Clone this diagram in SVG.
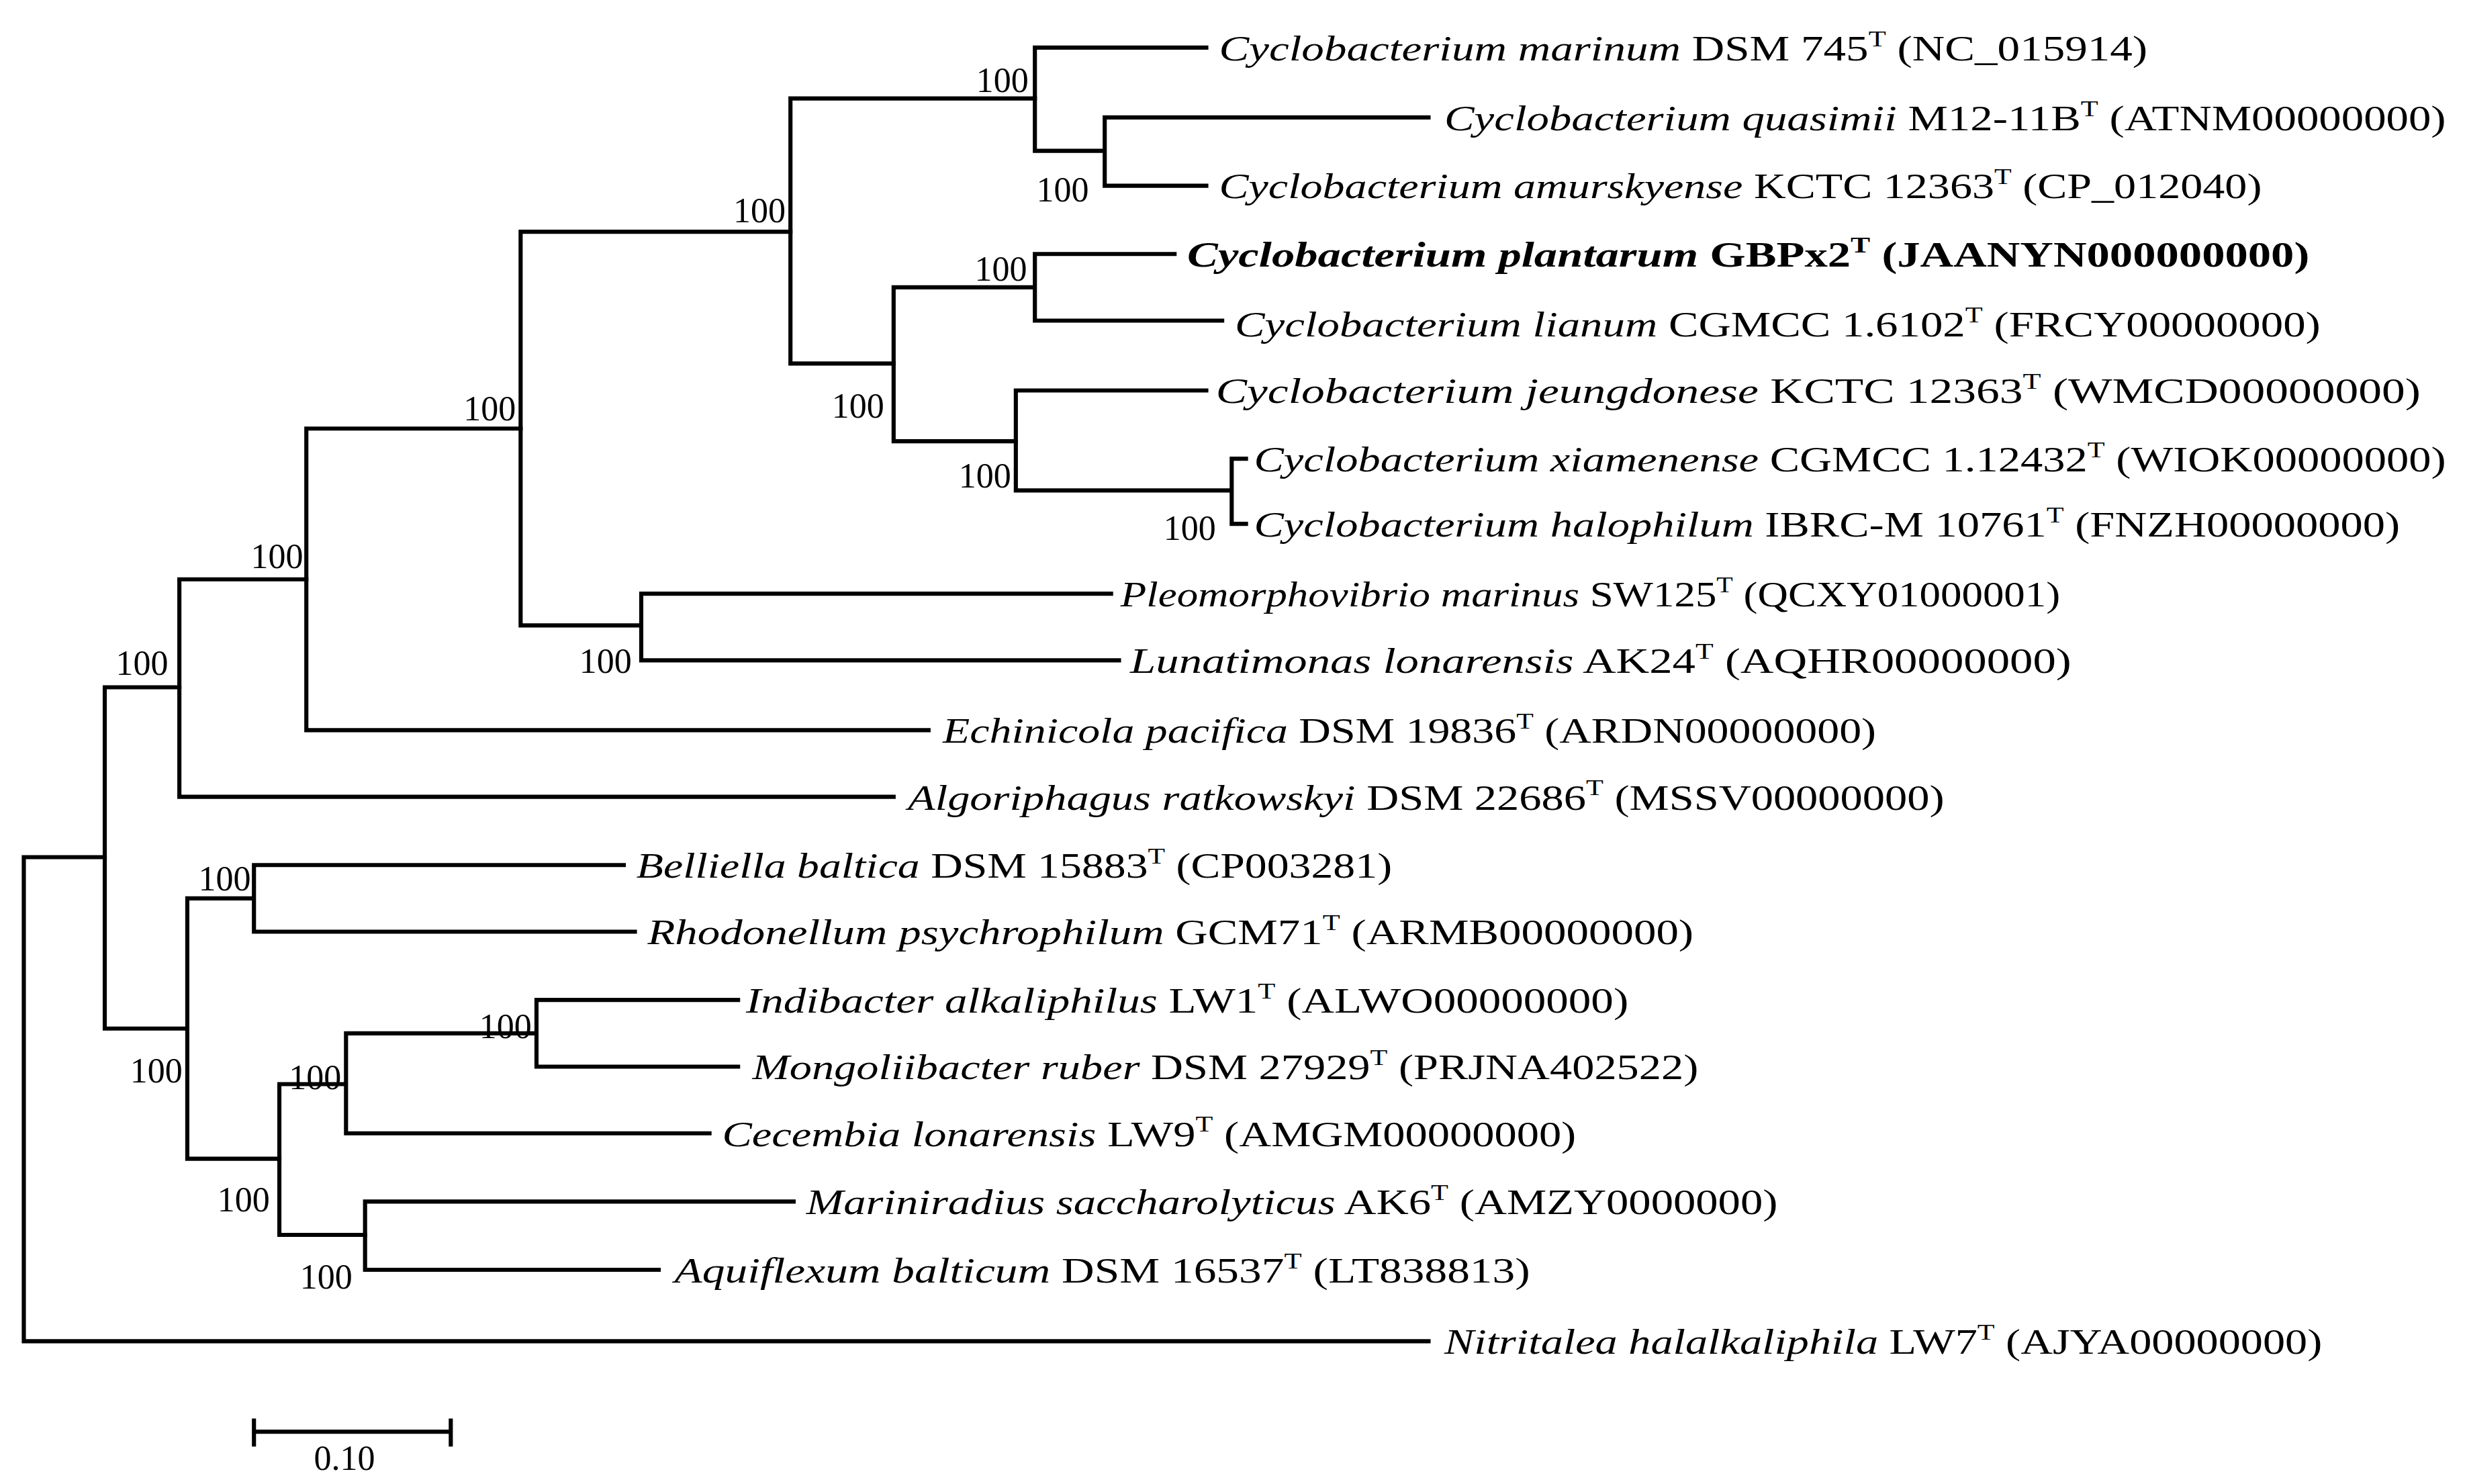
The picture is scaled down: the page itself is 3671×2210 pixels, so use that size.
<svg xmlns="http://www.w3.org/2000/svg" width="3671" height="2210" viewBox="0 0 3671 2210">
<style>
.b{fill:none;stroke:#000;stroke-width:2.6;stroke-linecap:square}
text{font-family:"Liberation Serif",serif;font-size:22px;fill:#000}
.i{font-style:italic}
.s{font-size:14px}
</style>
<rect width="3671" height="2210" fill="#fff"/>
<g transform="scale(2.3638)">
<g id="connectors" class="b">
<path d="M652,30H760M652,30V95H696M696,74V117M696,74H900M696,117H760"/>
<path d="M498,62H652M498,62V229H563"/>
<path d="M652,160H740M652,160V202H770M563,181H652M563,181V278H640"/>
<path d="M640,246H760M640,246V309H776M776,289V330M776,289H785M776,330H785"/>
<path d="M328,146H498M328,146V394H404M404,374V416M404,374H700M404,416H705"/>
<path d="M193,270H328M193,270V460H585"/>
<path d="M113,365H193M113,365V502H563"/>
<path d="M66,433H113M66,433V648H118"/>
<path d="M118,566H160M118,566V730H176M160,545V587M160,545H393M160,587H400"/>
<path d="M176,683H218M176,683V778H230M218,651V714M218,651H338M218,714H447M338,630V672M338,630H465M338,672H465"/>
<path d="M230,757V800M230,757H500M230,800H415"/>
<path d="M15,540H66M15,540V845H900"/>
<path d="M160,902H284M160,895V910M284,895V910"/>
</g>
<g id="bootstrap">
<text x="648" y="58" text-anchor="end">100</text>
<text x="686" y="127" text-anchor="end">100</text>
<text x="495" y="140" text-anchor="end">100</text>
<text x="647" y="177" text-anchor="end">100</text>
<text x="557" y="263" text-anchor="end">100</text>
<text x="637" y="307" text-anchor="end">100</text>
<text x="766" y="340" text-anchor="end">100</text>
<text x="325" y="265" text-anchor="end">100</text>
<text x="398" y="424" text-anchor="end">100</text>
<text x="191" y="358" text-anchor="end">100</text>
<text x="106" y="425" text-anchor="end">100</text>
<text x="115" y="682" text-anchor="end">100</text>
<text x="158" y="561" text-anchor="end">100</text>
<text x="335" y="654" text-anchor="end">100</text>
<text x="215" y="686" text-anchor="end">100</text>
<text x="170" y="763" text-anchor="end">100</text>
<text x="222" y="812" text-anchor="end">100</text>
</g>
<g id="taxa">
<text id="t1" x="768" y="38" textLength="585" lengthAdjust="spacingAndGlyphs"><tspan class="i">Cyclobacterium marinum</tspan> DSM 745<tspan class="s" dy="-9">T</tspan><tspan dy="9"> (NC_015914)</tspan></text>
<text id="t2" x="910" y="82" textLength="631" lengthAdjust="spacingAndGlyphs"><tspan class="i">Cyclobacterium quasimii</tspan> M12-11B<tspan class="s" dy="-9">T</tspan><tspan dy="9"> (ATNM00000000)</tspan></text>
<text id="t3" x="768" y="125" textLength="657" lengthAdjust="spacingAndGlyphs"><tspan class="i">Cyclobacterium amurskyense</tspan> KCTC 12363<tspan class="s" dy="-9">T</tspan><tspan dy="9"> (CP_012040)</tspan></text>
<text id="t4" x="748" y="168" font-weight="bold" textLength="707" lengthAdjust="spacingAndGlyphs"><tspan class="i">Cyclobacterium  plantarum </tspan> GBPx2<tspan class="s" dy="-9">T</tspan><tspan dy="9"> (JAANYN000000000)</tspan></text>
<text id="t5" x="778" y="212" textLength="684" lengthAdjust="spacingAndGlyphs"><tspan class="i">Cyclobacterium lianum</tspan> CGMCC 1.6102<tspan class="s" dy="-9">T</tspan><tspan dy="9"> (FRCY00000000)</tspan></text>
<text id="t6" x="766" y="254" textLength="759" lengthAdjust="spacingAndGlyphs"><tspan class="i">Cyclobacterium  jeungdonese</tspan> KCTC 12363<tspan class="s" dy="-9">T</tspan><tspan dy="9"> (WMCD00000000)</tspan></text>
<text id="t7" x="790" y="297" textLength="751" lengthAdjust="spacingAndGlyphs"><tspan class="i">Cyclobacterium xiamenense</tspan> CGMCC 1.12432<tspan class="s" dy="-9">T</tspan><tspan dy="9"> (WIOK00000000)</tspan></text>
<text id="t8" x="790" y="338" textLength="722" lengthAdjust="spacingAndGlyphs"><tspan class="i">Cyclobacterium halophilum</tspan> IBRC-M 10761<tspan class="s" dy="-9">T</tspan><tspan dy="9"> (FNZH00000000)</tspan></text>
<text id="t9" x="706" y="382" textLength="592" lengthAdjust="spacingAndGlyphs"><tspan class="i">Pleomorphovibrio marinus</tspan> SW125<tspan class="s" dy="-9">T</tspan><tspan dy="9"> (QCXY01000001)</tspan></text>
<text id="t10" x="712" y="424" textLength="593" lengthAdjust="spacingAndGlyphs"><tspan class="i">Lunatimonas lonarensis</tspan> AK24<tspan class="s" dy="-9">T</tspan><tspan dy="9"> (AQHR00000000)</tspan></text>
<text id="t11" x="594" y="468" textLength="588" lengthAdjust="spacingAndGlyphs"><tspan class="i">Echinicola pacifica</tspan> DSM 19836<tspan class="s" dy="-9">T</tspan><tspan dy="9"> (ARDN00000000)</tspan></text>
<text id="t12" x="572" y="510" textLength="653" lengthAdjust="spacingAndGlyphs"><tspan class="i">Algoriphagus ratkowskyi</tspan> DSM 22686<tspan class="s" dy="-9">T</tspan><tspan dy="9"> (MSSV00000000)</tspan></text>
<text id="t13" x="401" y="553" textLength="476" lengthAdjust="spacingAndGlyphs"><tspan class="i">Belliella baltica</tspan> DSM 15883<tspan class="s" dy="-9">T</tspan><tspan dy="9"> (CP003281)</tspan></text>
<text id="t14" x="408" y="595" textLength="659" lengthAdjust="spacingAndGlyphs"><tspan class="i">Rhodonellum psychrophilum</tspan> GCM71<tspan class="s" dy="-9">T</tspan><tspan dy="9"> (ARMB00000000)</tspan></text>
<text id="t15" x="470" y="638" textLength="556" lengthAdjust="spacingAndGlyphs"><tspan class="i">Indibacter alkaliphilus</tspan> LW1<tspan class="s" dy="-9">T</tspan><tspan dy="9"> (ALWO00000000)</tspan></text>
<text id="t16" x="474" y="680" textLength="596" lengthAdjust="spacingAndGlyphs"><tspan class="i">Mongoliibacter ruber</tspan> DSM 27929<tspan class="s" dy="-9">T</tspan><tspan dy="9"> (PRJNA402522)</tspan></text>
<text id="t17" x="455" y="722" textLength="538" lengthAdjust="spacingAndGlyphs"><tspan class="i">Cecembia lonarensis</tspan> LW9<tspan class="s" dy="-9">T</tspan><tspan dy="9"> (AMGM00000000)</tspan></text>
<text id="t18" x="508" y="765" textLength="612" lengthAdjust="spacingAndGlyphs"><tspan class="i">Mariniradius saccharolyticus</tspan> AK6<tspan class="s" dy="-9">T</tspan><tspan dy="9"> (AMZY0000000)</tspan></text>
<text id="t19" x="425" y="808" textLength="539" lengthAdjust="spacingAndGlyphs"><tspan class="i">Aquiflexum balticum</tspan> DSM 16537<tspan class="s" dy="-9">T</tspan><tspan dy="9"> (LT838813)</tspan></text>
<text id="t20" x="910" y="853" textLength="553" lengthAdjust="spacingAndGlyphs"><tspan class="i">Nitritalea halalkaliphila</tspan> LW7<tspan class="s" dy="-9">T</tspan><tspan dy="9"> (AJYA00000000)</tspan></text>
<text id="scale" x="217" y="926" text-anchor="middle">0.10</text>
</g>
</g>
</svg>
